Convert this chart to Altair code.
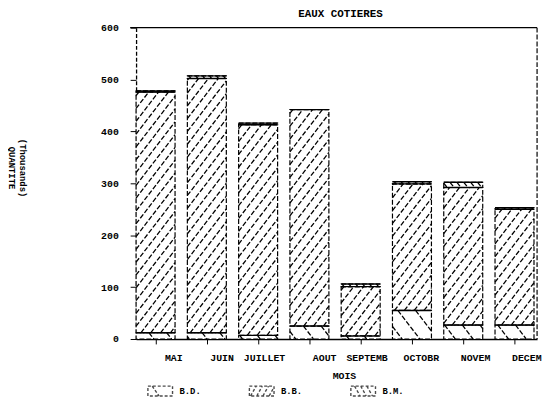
import math
import altair as alt
import pandas as pd

# ---- data ----
months = ["MAI", "JUIN", "JUILLET", "AOUT", "SEPTEMB", "OCTOBR", "NOVEM", "DECEM"]
bd = [12, 12, 7, 25, 6, 55, 27, 27]          # B.D. (bottom)
bb = [464, 490, 406, 417, 95, 244, 265, 223]  # B.B. (middle)
bm = [2, 5, 3, 0, 5, 4, 10, 3]                # B.M. (top)
series_names = ["B.D.", "B.B.", "B.M."]
y_ticks = [0, 100, 200, 300, 400, 500, 600]

# ---- layout / style ----
W, H = 407, 316
XMAX, YMAX = 7.82, 600
BW = 0.76
FONT = "Liberation Mono"
sx, sy = W / XMAX, H / YMAX
SLOPE = 1.3
patterns = {"B.D.": (-1, 18), "B.B.": (1, 10), "B.M.": (-1, 7)}

seg_rows, hatch_rows = [], []
for i, m in enumerate(months):
    lo = 0
    for name, vals in zip(series_names, [bd, bb, bm]):
        v = vals[i]
        hi = lo + v
        if v > 0:
            seg_rows.append(dict(month=m, series=name, x0=i, x1=i + BW, lo=lo, hi=hi))
            d, h = patterns[name]
            X0, X1, Ylo, Yhi = i * sx, (i + BW) * sx, lo * sy, hi * sy
            step = SLOPE * h
            if d > 0:
                cmin, cmax = Ylo - SLOPE * X1, Yhi - SLOPE * X0
            else:
                cmin, cmax = Ylo + SLOPE * X0, Yhi + SLOPE * X1
            for k in range(math.ceil(cmin / step), math.floor(cmax / step) + 1):
                c = k * step
                if d > 0:
                    a, b = (Ylo - c) / SLOPE, (Yhi - c) / SLOPE
                else:
                    a, b = (c - Yhi) / SLOPE, (c - Ylo) / SLOPE
                xa, xb = max(a, X0), min(b, X1)
                if xb - xa > 0.6:
                    ya, yb = d * SLOPE * xa + c, d * SLOPE * xb + c
                    hatch_rows.append(dict(hx=xa / sx, hx2=xb / sx, hy=ya / sy, hy2=yb / sy))
        lo = hi

seg = pd.DataFrame(seg_rows)
hatch = pd.DataFrame(hatch_rows)

xscale = alt.Scale(domain=[0, XMAX], nice=False, zero=False)
yscale = alt.Scale(domain=[0, YMAX], nice=False)

label_arr = "[" + ",".join("'%s'" % m for m in months) + "]"
x_axis = alt.Axis(
    values=[i + BW / 2 for i in range(len(months))],
    labelExpr=label_arr + "[floor(datum.value)]",
    title="MOIS", grid=False, labelAlign="right", labelOffset=27,
    labelBaseline="top", labelPadding=9, tickSize=5, titleX=211, titleY=42,
    titleBaseline="bottom",
)
y_axis = alt.Axis(
    values=y_ticks, title=["(Thousands)", "QUANTITE"], grid=False,
    tickSize=6, labelPadding=12, domainDash=[4, 2], titleAngle=90,
    titleX=-115, titleY=142, titleAlign="center", titleBaseline="middle",
    titleFontSize=9, titleLineHeight=11,
)

bars = alt.Chart(seg).mark_rect(fill="white", stroke="black", strokeDash=[5, 2], strokeWidth=1.2).encode(
    x=alt.X("x0:Q", scale=xscale, axis=x_axis), x2="x1:Q",
    y=alt.Y("lo:Q", scale=yscale, axis=y_axis), y2="hi:Q",
)
hatches = alt.Chart(hatch).mark_rule(color="black", strokeDash=[5, 2], strokeWidth=1.3).encode(
    x="hx:Q", x2="hx2:Q", y="hy:Q", y2="hy2:Q"
)
tops = alt.Chart(seg).mark_rule(color="black", strokeWidth=1.4).encode(
    x="x0:Q", x2="x1:Q", y="hi:Q"
)

one = pd.DataFrame({"a": [0]})
top_frame = alt.Chart(one).mark_rule(color="black", strokeWidth=1.3).encode(
    x=alt.value(-6), x2=alt.value(W), y=alt.value(0)
)
right_frame = alt.Chart(one).mark_rule(color="black", strokeWidth=1.2, strokeDash=[5, 2]).encode(
    x=alt.value(W), y=alt.value(0), y2=alt.value(H)
)

paths = [
    "M-1,-0.4L1,-0.4L1,0.4L-1,0.4Z M-0.65,-0.4L-0.1,0.4",
    "M-1,-0.4L1,-0.4L1,0.4L-1,0.4Z M-0.9,0.4L-0.45,-0.4 M-0.4,0.4L0.05,-0.4 M0.1,0.4L0.55,-0.4 M0.6,0.4L1,-0.3",
    "M-1,-0.4L1,-0.4L1,0.4L-1,0.4Z M-0.7,-0.4L-0.25,0.4 M-0.2,-0.4L0.25,0.4 M0.3,-0.4L0.75,0.4",
]
legend_layer = alt.Chart(pd.DataFrame({"series": series_names})).mark_point(filled=False).encode(
    shape=alt.Shape(
        "series:N",
        scale=alt.Scale(domain=series_names, range=paths),
        legend=alt.Legend(
            title=None, orient="none", direction="horizontal", legendX=11, legendY=355,
            symbolSize=625, symbolStrokeColor="black", symbolFillColor="white",
            symbolDash=[3, 2], symbolStrokeWidth=1.4, labelFont=FONT, labelFontSize=9,
            labelFontWeight="bold", labelColor="black", labelOffset=6, columnPadding=46,
            padding=0,
        ),
    )
).transform_filter("false")

chart = alt.layer(bars, hatches, tops, top_frame, right_frame, legend_layer).properties(
    width=W, height=H,
    title=alt.Title("EAUX COTIERES", font=FONT, fontSize=11, fontWeight="bold",
                    color="black", anchor="middle", offset=4, dx=4),
    padding={"left": 130, "top": 17, "right": 5, "bottom": 61},
    autosize=alt.AutoSizeParams(type="none"),
).configure_view(stroke=None).configure_axis(
    labelFont=FONT, labelFontSize=10, labelFontWeight="bold", labelColor="black",
    titleFont=FONT, titleFontSize=10, titleFontWeight="bold", titleColor="black",
    domainColor="black", tickColor="black", domainWidth=1.3,
)

chart.save("out.html", embed_options={"renderer": "svg", "actions": False})
